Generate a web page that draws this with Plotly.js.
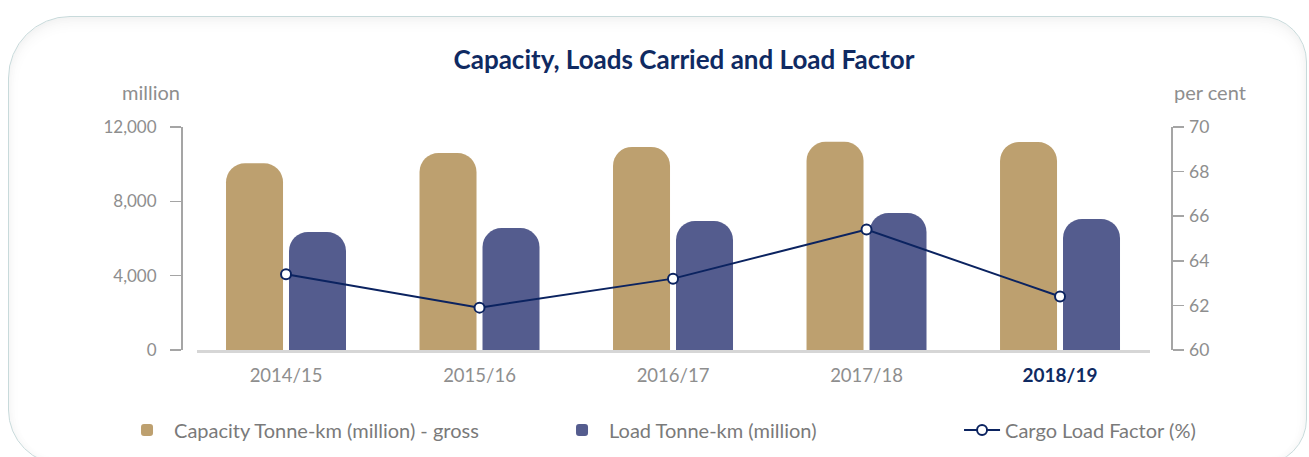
<!DOCTYPE html>
<html>
<head>
<meta charset="utf-8">
<script src="https://cdn.plot.ly/plotly-3.0.1.min.js"></script>
<style>
  html, body { margin: 0; padding: 0; background: #ffffff; width: 1309px; height: 457px; overflow: hidden; }
  #card {
    position: absolute; left: 8px; top: 16px; width: 1299px; height: 449px;
    border: 1px solid #c8dadb; border-radius: 62px 46px 46px 55px;
    box-shadow: inset 0 6px 14px rgba(0,0,0,0.045), inset 0 0 10px rgba(0,0,0,0.03);
    background: #ffffff; box-sizing: border-box;
  }
  #chart { position: absolute; left: 0; top: 0; width: 1309px; height: 457px; }
</style>
</head>
<body>
<div id="card"></div>
<div id="chart"></div>
<script>
const categories = ['2014/15', '2015/16', '2016/17', '2017/18', '2018/19'];
const tickLabels = ['2014/15', '2015/16', '2016/17', '2017/18', '<b><span style="color:#0f2a62;font-size:19px">2018/19</span></b>'];
const capacity = [10050, 10600, 10930, 11200, 11190];
const load = [6350, 6560, 6940, 7370, 7050];
const loadFactor = [63.4, 61.9, 63.2, 65.4, 62.4];
const leftTicks = [0, 4000, 8000, 12000];
const rightTicks = [60, 62, 64, 66, 68, 70];

const FONT = 'Lato, "Source Sans Pro", "Noto Sans", sans-serif';
const GRAY = '#8e8e8e';
const AXIS = '#a5a5a5';
const NAVY = '#0f2a62';
const LEGEND_FONT = { family: FONT, size: 20, color: '#7a7a7a' };

const traces = [
  {
    type: 'bar', name: 'Capacity Tonne-km (million) - gross',
    x: categories, y: capacity, legend: 'legend',
    marker: { color: '#bda06f', cornerradius: 19 },
    hoverinfo: 'y'
  },
  {
    type: 'bar', name: 'Load Tonne-km (million)',
    x: categories, y: load, legend: 'legend2',
    marker: { color: '#545c8e', cornerradius: 19 },
    hoverinfo: 'y'
  },
  {
    type: 'scatter', mode: 'lines+markers', name: 'Cargo Load Factor (%)',
    x: categories, y: loadFactor, yaxis: 'y2', legend: 'legend3',
    line: { color: '#0b2360', width: 2 },
    marker: { size: 10, color: '#ffffff', line: { color: '#0b2360', width: 2 } },
    cliponaxis: false
  }
];

function legendAt(x, w) {
  return {
    orientation: 'h', x: x, xanchor: 'left', y: -0.359, yanchor: 'middle',
    itemwidth: w, font: LEGEND_FONT, bgcolor: 'rgba(0,0,0,0)'
  };
}

const layout = {
  width: 1309, height: 457,
  margin: { l: 181, r: 138, t: 127, b: 107, pad: 0, autoexpand: false },
  paper_bgcolor: 'rgba(0,0,0,0)',
  plot_bgcolor: 'rgba(0,0,0,0)',
  font: { family: FONT, color: GRAY, size: 17 },
  barmode: 'group',
  bargap: 0.349,
  bargroupgap: 0.095,
  showlegend: true,
  title: {
    text: '<b>Capacity, Loads Carried and Load Factor</b>',
    font: { family: FONT, size: 26, color: NAVY },
    xref: 'container', x: 684 / 1309, xanchor: 'center',
    yref: 'container', y: 1 - 60 / 457, yanchor: 'middle'
  },
  xaxis: {
    type: 'category',
    domain: [16 / 990, 969 / 990],
    range: [-0.46, 4.465],
    tickvals: categories, ticktext: tickLabels,
    showline: true, linecolor: '#d6d6d6', linewidth: 2.5,
    ticks: '', showgrid: false, zeroline: false,
    tickfont: { family: FONT, size: 18.5, color: GRAY },
    ticklabelstandoff: 7,
    fixedrange: true
  },
  yaxis: {
    range: [0, 12000],
    tickvals: leftTicks, tickformat: ',',
    anchor: 'free', position: 0,
    showline: true, linecolor: AXIS, linewidth: 1.5,
    ticks: 'outside', ticklen: 11, tickwidth: 1.5, tickcolor: AXIS,
    showgrid: false, zeroline: false,
    tickfont: { family: FONT, size: 17, color: GRAY },
    ticklabelstandoff: 10,
    fixedrange: true
  },
  yaxis2: {
    overlaying: 'y', side: 'right',
    range: [60, 70],
    tickvals: rightTicks,
    anchor: 'free', position: 1,
    showline: true, linecolor: AXIS, linewidth: 1.5,
    ticks: 'outside', ticklen: 11, tickwidth: 1.5, tickcolor: AXIS,
    showgrid: false, zeroline: false,
    tickfont: { family: FONT, size: 17.5, color: GRAY },
    ticklabelstandoff: 2,
    fixedrange: true
  },
  legend: legendAt(-0.0616, 44),
  legend2: legendAt(0.3778, 44),
  legend3: legendAt(0.7859, 36),
  annotations: [
    {
      text: 'million', xref: 'paper', yref: 'paper',
      x: 0.001, xanchor: 'right', y: 1 + 35 / 223, yanchor: 'middle',
      showarrow: false, font: { family: FONT, size: 20, color: GRAY }
    },
    {
      text: 'per cent', xref: 'paper', yref: 'paper',
      x: 1.001, xanchor: 'left', y: 1 + 35 / 223, yanchor: 'middle',
      showarrow: false, font: { family: FONT, size: 20, color: GRAY }
    }
  ]
};

Plotly.newPlot('chart', traces, layout, { displayModeBar: false, staticPlot: true });
</script>
</body>
</html>
